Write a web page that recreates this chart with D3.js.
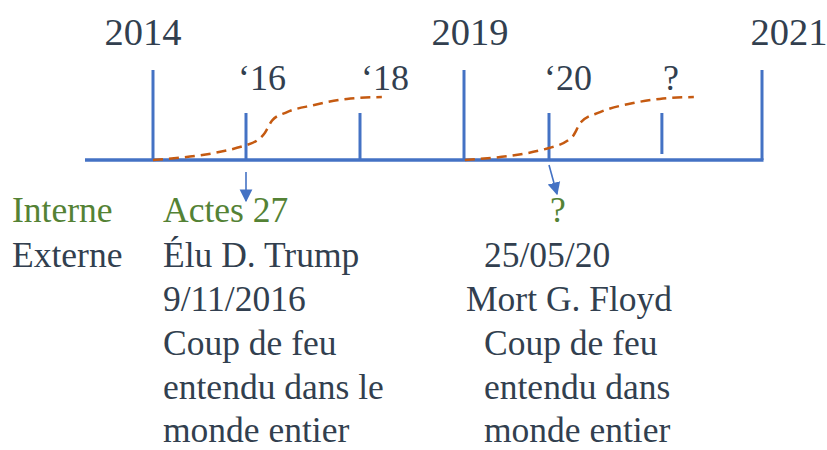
<!DOCTYPE html>
<html><head><meta charset="utf-8">
<script src="https://cdn.jsdelivr.net/npm/d3@7"></script>
<style>html,body{margin:0;padding:0;background:#fff;}svg{display:block;}</style>
</head><body>
<script>
// ---- data ----
const majorYears = [2014, 2019, 2021];
const majorLabels = ["2014", "2019", "2021"];
const minorYears = [2016, 2018, 2020, 2020.53];
const minorLabels = ["\u201816", "\u201818", "\u201820", "?"];
const curve1 = [[2014,0],[2016.02,0.24],[2016.33,0.43],[2016.46,0.63],[2016.72,0.76],[2017.18,0.87],[2017.77,0.97],[2018.21,1.0]];
const curve2 = [[2019.01,0],[2020.0,0.19],[2020.11,0.37],[2020.15,0.60],[2020.24,0.76],[2020.39,0.90],[2020.52,0.97],[2020.68,1.0]];
const rowLabels = ["Interne", "Externe"];
const event1Lines = ["Actes 27", "Élu D. Trump", "9/11/2016", "Coup de feu", "entendu dans le", "monde entier"];
const event2Lines = ["?", "25/05/20", "Mort G. Floyd", "Coup de feu", "entendu dans", "monde entier"];

const W = 827, H = 450;
const blue = "#4472C4", orange = "#C55A11", green = "#548235", dark = "#323F4F";
const font = "'Liberation Serif','Times New Roman',serif";

const svg = d3.select("body").append("svg").attr("width", W).attr("height", H);

const x = d3.scaleLinear()
  .domain([2014, 2016, 2018, 2019, 2020, 2021])
  .range([153, 246, 360, 464, 549, 762]);
const y = d3.scaleLinear().domain([0, 1]).range([160, 97]);

svg.append("defs").append("marker")
  .attr("id", "arr").attr("viewBox", "0 0 10 10").attr("refX", 9).attr("refY", 5)
  .attr("markerWidth", 8).attr("markerHeight", 9).attr("markerUnits", "strokeWidth")
  .attr("orient", "auto")
  .append("path").attr("d", "M0,0 L10,5 L0,10 z").attr("fill", blue);

// baseline
svg.append("line").attr("x1", 85).attr("x2", x(2021) + 1.5).attr("y1", y(0)).attr("y2", y(0))
  .attr("stroke", blue).attr("stroke-width", 3.5);

// major ticks
svg.selectAll(".maj").data(majorYears).join("line")
  .attr("x1", d => x(d)).attr("x2", d => x(d)).attr("y1", 70).attr("y2", y(0))
  .attr("stroke", blue).attr("stroke-width", 3);
// minor ticks
svg.selectAll(".min").data(minorYears).join("line")
  .attr("x1", d => x(d)).attr("x2", d => x(d)).attr("y1", 113).attr("y2", (d, i) => i === 3 ? 154 : y(0))
  .attr("stroke", blue).attr("stroke-width", 3);

// labels
const majOffsets = [-10, 6, 27];
svg.selectAll(".majl").data(majorYears).join("text")
  .attr("x", (d, i) => x(d) + majOffsets[i]).attr("y", 45).attr("text-anchor", "middle")
  .attr("font-family", font).attr("font-size", 38.5).attr("fill", dark)
  .text((d, i) => majorLabels[i]);
const minOffsets = [16, 25, 19, 9];
svg.selectAll(".minl").data(minorYears).join("text")
  .attr("x", (d, i) => x(d) + minOffsets[i]).attr("y", 90).attr("text-anchor", "middle")
  .attr("font-family", font).attr("font-size", 36).attr("fill", dark)
  .text((d, i) => minorLabels[i]);

// dashed curves
const line = d3.line().x(d => x(d[0])).y(d => y(d[1])).curve(d3.curveMonotoneX);
[curve1, curve2].forEach(c => {
  svg.append("path").attr("d", line(c)).attr("fill", "none")
    .attr("stroke", orange).attr("stroke-width", 2.5).attr("stroke-dasharray", "10,6");
});

// arrows
svg.append("line").attr("x1", x(2016)).attr("x2", x(2016)).attr("y1", 172).attr("y2", 201)
  .attr("stroke", blue).attr("stroke-width", 1.6).attr("marker-end", "url(#arr)");
svg.append("line").attr("x1", x(2020)).attr("x2", x(2020) + 8).attr("y1", 165).attr("y2", 194)
  .attr("stroke", blue).attr("stroke-width", 1.6).attr("marker-end", "url(#arr)");

// text rows
const lineY = [222, 267, 311, 355, 399, 442];
svg.selectAll(".rowl").data(rowLabels).join("text")
  .attr("x", 12).attr("y", (d, i) => lineY[i])
  .attr("font-family", font).attr("font-size", 35.5)
  .attr("fill", (d, i) => i === 0 ? green : dark).text(d => d);

svg.selectAll(".e1").data(event1Lines).join("text")
  .attr("x", 163).attr("y", (d, i) => lineY[i])
  .attr("font-family", font).attr("font-size", 35.5)
  .attr("fill", (d, i) => i === 0 ? green : dark).text(d => d);

const e2x = [558, 484, 466, 484, 484, 484];
svg.selectAll(".e2").data(event2Lines).join("text")
  .attr("x", (d, i) => e2x[i]).attr("y", (d, i) => lineY[i])
  .attr("text-anchor", (d, i) => i === 0 ? "middle" : "start")
  .attr("font-family", font).attr("font-size", 35.5)
  .attr("fill", (d, i) => i === 0 ? green : dark).text(d => d);
</script>
</body></html>
